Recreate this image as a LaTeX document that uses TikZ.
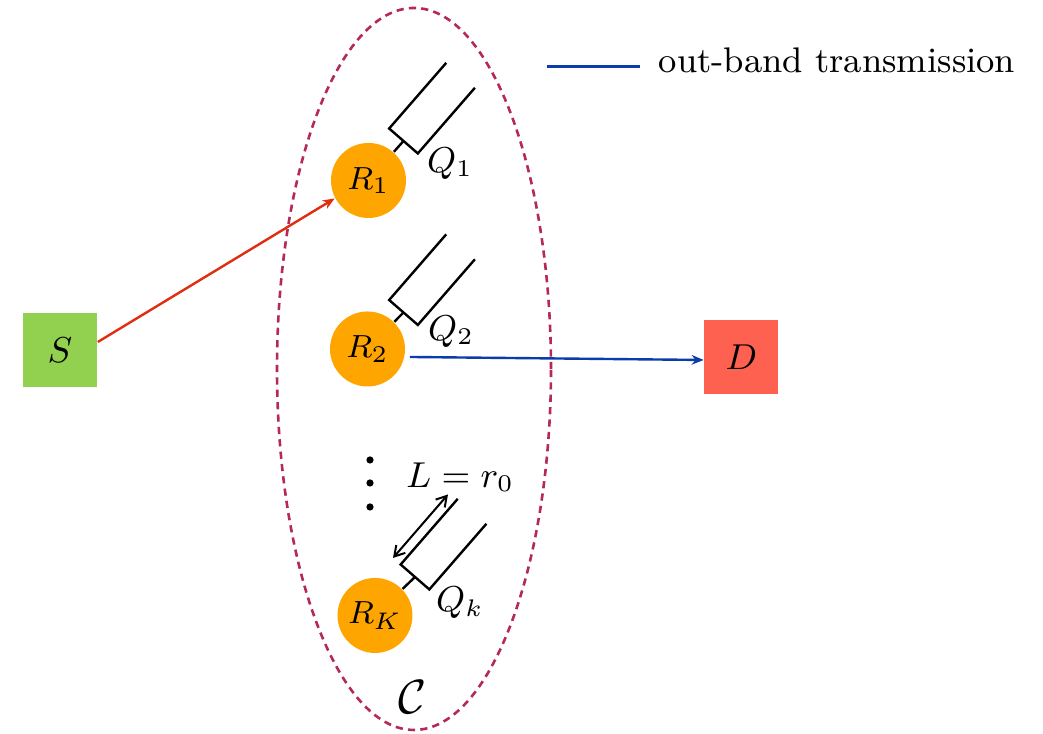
\documentclass[tikz,border=0pt]{standalone}
\usepackage{amsmath,amssymb}
\usetikzlibrary{arrows.meta}
\definecolor{mygreen}{RGB}{146,208,80}
\definecolor{myred}{RGB}{255,97,80}
\definecolor{myorange}{RGB}{255,165,0}
\definecolor{myblue}{RGB}{10,60,170}
\definecolor{myarrow}{RGB}{225,45,15}
\definecolor{myplum}{RGB}{180,40,90}

\begin{document}
\begin{tikzpicture}[x=0.25pt,y=0.25pt,
  relay/.style={circle, fill=myorange, minimum size=18.75pt, inner sep=0pt, font=\fontsize{8.3}{9}\selectfont},
  term/.style={minimum size=18.5pt, inner sep=0pt, font=\fontsize{9}{10}\selectfont},
  buf/.style={line width=0.6pt},
  lbl/.style={inner sep=0pt, font=\fontsize{9.2}{11}\selectfont}]
\useasboundingbox (0,0) rectangle (1043,734);
% cluster C
\draw[myplum, line width=0.65pt, dash pattern=on 1.8pt off 1.3pt] (414,365) ellipse (137 and 361);
\node[font=\fontsize{13}{15}\selectfont] (clu) at (413,37) {$\mathcal{C}$};
% source, destination, relays
\node[term, fill=mygreen] (S) at (60,384) {$S$};
\node[term, fill=myred] (D) at (741.5,377) {$D$};
\node[relay] (R1) at (368.5,553.5) {$R_1$};
\node[relay] (R2) at (367.5,385) {$R_2$};
\node[relay] (RK) at (375,118.5) {$R_K$};
% queues
\coordinate (b1) at (403.5,593);
\coordinate (b2) at (403.5,421.5);
\coordinate (bK) at (415,157);
\foreach \b in {b1,b2,bK}{
  \begin{scope}[shift={(\b)},rotate=49]
    \draw[buf] (87,19) -- (0,19) -- (0,-19) -- (87,-19);
  \end{scope}
}
\draw[buf] (R1) -- (b1);
\draw[buf] (R2) -- (b2);
\draw[buf] (RK) -- (bK);
% queue length
\coordinate (La) at (393,176);
\coordinate (Lb) at (448,239.5);
\draw[line width=0.5pt, {Straight Barb[length=2.5pt,width=3pt]}-{Straight Barb[length=2.5pt,width=3pt]}] (La) -- (Lb);
\node[lbl] (Q1) at (450,570) {$Q_1$};
\node[lbl] (Q2) at (451,402) {$Q_2$};
\node[lbl] (QK) at (460,131) {$Q_k$};
\node[lbl] (len) at (460,257) {$L = r_0$};
\foreach \y in {274,251,227}{
  \fill (370,\y) circle (0.9pt);
}
% links
\draw[myarrow, line width=0.6pt, -{Stealth[length=3pt,width=2.4pt]}] ([yshift=2pt]S.east) -- (R1.208);
\draw[myblue, line width=0.6pt, -{Stealth[length=3pt,width=2.4pt]}] ([xshift=1pt,yshift=-2pt]R2.east) -- ([yshift=-0.75pt]D.west);
% legend
\coordinate (leg1) at (547,667);
\coordinate (leg2) at (640,667);
\draw[myblue, line width=0.75pt] (leg1) -- (leg2);
\node[anchor=base west, inner sep=0pt, font=\fontsize{8.9}{11}\selectfont] (legtxt) at (658,661) {out-band transmission};
\end{tikzpicture}
\end{document}
